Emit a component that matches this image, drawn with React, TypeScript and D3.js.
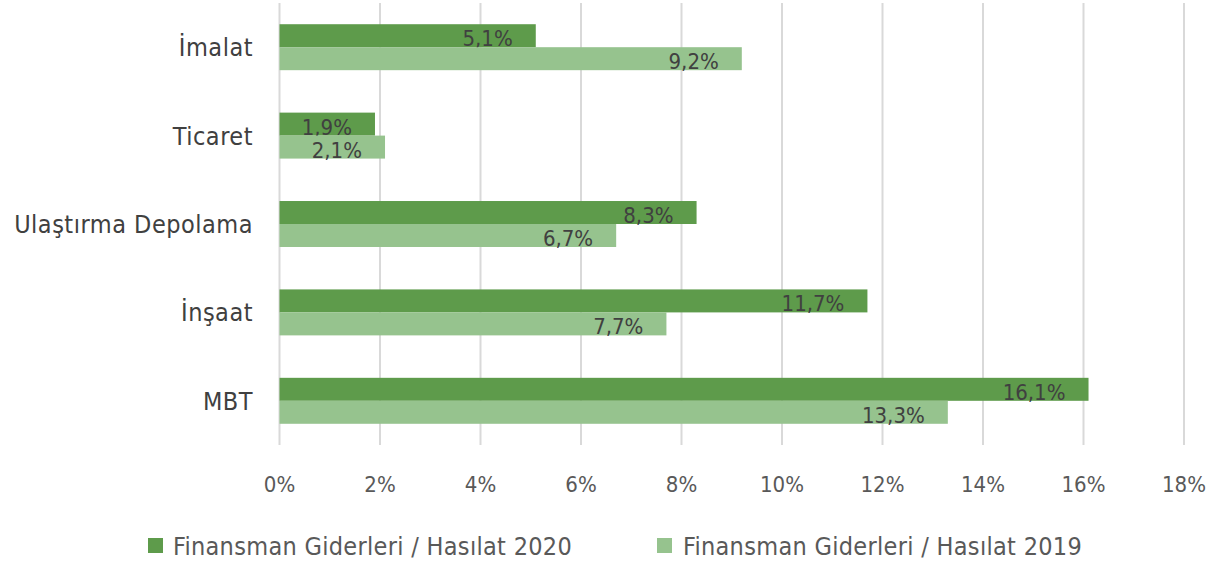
import React from "react";
import * as d3 from "d3";

const categories = ["İmalat", "Ticaret", "Ulaştırma Depolama", "İnşaat", "MBT"];
const series2020 = [5.1, 1.9, 8.3, 11.7, 16.1];
const series2019 = [9.2, 2.1, 6.7, 7.7, 13.3];
const seriesNames = ["Finansman Giderleri / Hasılat 2020", "Finansman Giderleri / Hasılat 2019"];
const xTicks = [0, 2, 4, 6, 8, 10, 12, 14, 16, 18];

const W = 1215;
const H = 568;
const FONT = "'Liberation Sans Narrow', 'DejaVu Sans Condensed', 'Liberation Sans', sans-serif";
const C2020 = "#5e9b4b";
const C2019 = "#96c38e";

export default function App() {
  const x = d3.scaleLinear().domain([0, 18]).range([279.5, 1184]);
  const y = d3.scaleBand<string>().domain(categories).range([3, 445]).paddingInner(0.48).paddingOuter(0.24);
  const sub = d3.scaleBand<string>().domain(["2020", "2019"]).range([0, y.bandwidth()]);
  const fmt = (v: number) => v.toFixed(1).replace(".", ",") + "%";
  const seriesData = [
    { key: "2020", values: series2020, color: C2020 },
    { key: "2019", values: series2019, color: C2019 },
  ];

  return (
    <svg width={W} height={H} style={{ position: "absolute", left: 0, top: 0, background: "#fff" }} fontFamily={FONT}>
      {xTicks.map((t) => (
        <line key={t} x1={x(t)} x2={x(t)} y1={3} y2={445} stroke="#d9d9d9" strokeWidth={2} />
      ))}
      {seriesData.map((s) =>
        categories.map((c, i) => {
          const y0 = (y(c) as number) + (sub(s.key) as number);
          const bh = sub.bandwidth();
          const v = s.values[i];
          return (
            <g key={s.key + c}>
              <rect x={x(0)} y={y0} width={x(v) - x(0)} height={bh} fill={s.color} />
              <text x={x(v) - 23} y={y0 + bh - 1} textAnchor="end" fontSize={22} fill="#404040">
                {fmt(v)}
              </text>
            </g>
          );
        })
      )}
      {categories.map((c) => (
        <text key={c} x={253} y={(y(c) as number) + y.bandwidth() / 2 + 9} textAnchor="end" fontSize={25} letterSpacing={0.5} fill="#404040">
          {c}
        </text>
      ))}
      {xTicks.map((t) => (
        <text key={"t" + t} x={x(t)} y={492} textAnchor="middle" fontSize={22} fill="#595959">
          {t + "%"}
        </text>
      ))}
      <g>
        <rect x={148} y={538} width={15} height={15} fill={C2020} />
        <text x={173} y={555} fontSize={25} letterSpacing={0.3} fill="#595959">{seriesNames[0]}</text>
        <rect x={657} y={538} width={15} height={15} fill={C2019} />
        <text x={683} y={555} fontSize={25} letterSpacing={0.3} fill="#595959">{seriesNames[1]}</text>
      </g>
    </svg>
  );
}
